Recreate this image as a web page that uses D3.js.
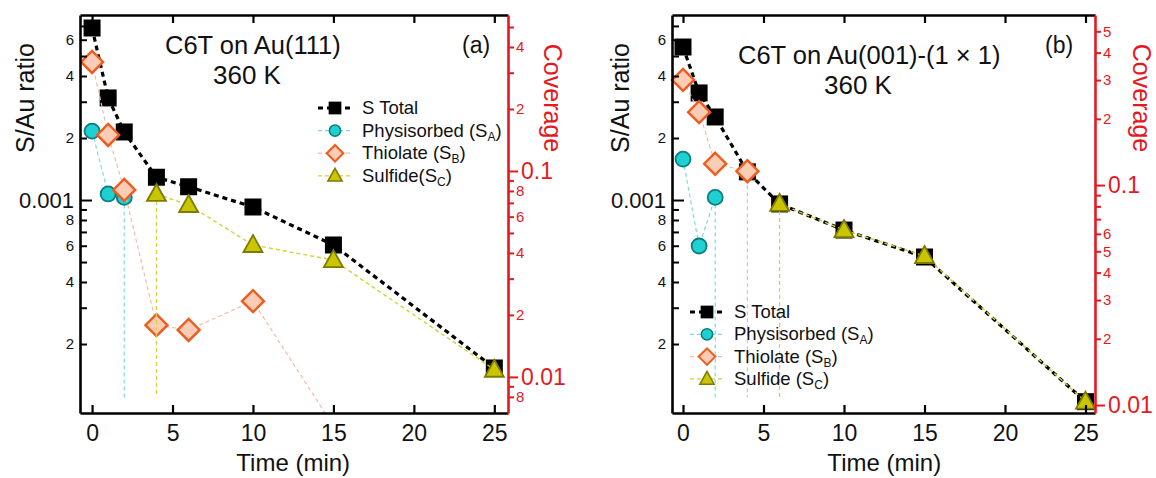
<!DOCTYPE html>
<html><head><meta charset="utf-8">
<script src="https://cdn.jsdelivr.net/npm/d3@7"></script>
<style>body{margin:0;background:#fff}svg{display:block}text{font-family:Arial,"Liberation Sans",sans-serif}</style>
</head><body><svg id="c" width="1156" height="478"></svg>
<script>
// ---------- data ----------
const timeTicks = [0, 5, 10, 15, 20, 25];

// Panel (a): C6T on Au(111), 360 K  (S/Au ratio)
const totalTimeA = [0, 1, 2, 4, 6, 10, 15, 25];
const totalA     = [6.84e-3, 3.13e-3, 2.14e-3, 1.29e-3, 1.16e-3, 0.925e-3, 0.605e-3, 0.153e-3];
const physTimeA  = [0, 1, 2];
const physA      = [2.16e-3, 1.07e-3, 1.03e-3];
const thiolTimeA = [0, 1, 2, 4, 6, 10, 15];
const thiolA     = [4.68e-3, 2.07e-3, 1.12e-3, 0.247e-3, 0.234e-3, 0.323e-3, 0.08e-3];
const sulfTimeA  = [4, 6, 10, 15, 25];
const sulfA      = [1.07e-3, 0.946e-3, 0.605e-3, 0.511e-3, 0.150e-3];
const physDropA  = [2];
const thiolDropA = [];
const sulfDropA  = [4];

// Panel (b): C6T on Au(001)-(1x1), 360 K
const totalTimeB = [0, 1, 2, 4, 6, 10, 15, 25];
const totalB     = [5.53e-3, 3.31e-3, 2.53e-3, 1.37e-3, 0.957e-3, 0.715e-3, 0.529e-3, 0.105e-3];
const physTimeB  = [0, 1, 2];
const physB      = [1.58e-3, 0.598e-3, 1.03e-3];
const thiolTimeB = [0, 1, 2, 4];
const thiolB     = [3.83e-3, 2.67e-3, 1.50e-3, 1.38e-3];
const sulfTimeB  = [6, 10, 15, 25];
const sulfB      = [0.957e-3, 0.715e-3, 0.535e-3, 0.105e-3];
const physDropB  = [2];
const thiolDropB = [4];
const sulfDropB  = [6];
const dropFloor  = 1.1e-4;

// axis domains and ticks
const xDomainA = [-0.75, 25.85];
const xDomainB = [-0.683, 25.59];
const ratioDomain = [9.25e-5, 7.91e-3];
const covDomainA = [6.68e-3, 0.572];
const covDomainB = [9.20e-3, 0.593];
const ratioTickVals = [2e-4,3e-4,4e-4,5e-4,6e-4,7e-4,8e-4,9e-4,1e-3,2e-3,3e-3,4e-3,5e-3,6e-3,7e-3];
const ratioTickText = ["2","","4","","6","","8","","0.001","2","","4","","6",""];
const covTickValsA = [0.008,0.009,0.01,0.02,0.03,0.04,0.05,0.06,0.07,0.08,0.09,0.1,0.2,0.3,0.4,0.5];
const covTickTextA = ["8","","0.01","2","","4","","6","","8","","0.1","2","","4",""];
const covTickValsB = [0.01,0.02,0.03,0.04,0.05,0.06,0.07,0.08,0.09,0.1,0.2,0.3,0.4,0.5];
const covTickTextB = ["0.01","2","3","4","5","6","","","","0.1","2","3","4","5"];
const legendNames = [["S Total",""],["Physisorbed (S","A"],["Thiolate (S","B"]];
const sulfNameA = ["Sulfide(S","C"];
const sulfNameB = ["Sulfide (S","C"];

// ---------- styles ----------
const RED = "#e4191f";
const ST = {
  total: {line:"#000", dash:"5,4", w:3.2, marker:"square", fill:"#000", stroke:"#000"},
  phys:  {line:"#7fd9e2", dash:"4,3", w:1.2, marker:"circle", fill:"#1fd0d2", stroke:"#0c7c7c"},
  thiol: {line:"#f4bba8", dash:"4,3", w:1.2, marker:"diamond", fill:"#fccdb4", stroke:"#ef5b1f"},
  sulf:  {line:"#d2d23a", dash:"4,3", w:1.4, marker:"triangle", fill:"#c9c600", stroke:"#7e7a00"}
};
function markerPath(type, s) {
  if (type === "square") return `M${-8.5*s},${-8.5*s}h${17*s}v${17*s}h${-17*s}Z`;
  if (type === "circle") { const r = 7.5*s; return `M${r},0A${r},${r} 0 1,1 ${-r},0A${r},${r} 0 1,1 ${r},0Z`; }
  if (type === "diamond") { const r = 11*s; return `M0,${-r}L${r},0L0,${r}L${-r},0Z`; }
  return `M0,${-10*s}L${9.5*s},${7*s}L${-9.5*s},${7*s}Z`;
}
function markerStroke(type){ return type==="square"?0:(type==="diamond"?2.4:1.8); }

const svg = d3.select("#c");

function panel(cfg) {
  const g = svg.append("g");
  const x = d3.scaleLinear().domain(cfg.xDomain).range([cfg.left, cfg.right]);
  const y = d3.scaleLog().domain(ratioDomain).range([cfg.bottom, cfg.top]);
  const yc = d3.scaleLog().domain(cfg.covDomain).range([cfg.bottom, cfg.top]);
  const clipId = "clip" + cfg.id;
  svg.append("clipPath").attr("id", clipId).append("rect")
    .attr("x", cfg.left).attr("y", cfg.top).attr("width", cfg.right - cfg.left).attr("height", cfg.bottom - cfg.top);

  const line = d3.line().x(d => x(d[0])).y(d => y(d[1]));
  const [lo, hi] = ratioDomain;
  cfg.series.forEach(s => {
    const st = ST[s.key];
    const pts = s.t.map((t, i) => [t, s.v[i]]);
    const lg = g.append("g").attr("clip-path", `url(#${clipId})`);
    lg.append("path").attr("d", line(pts)).attr("fill", "none")
      .attr("stroke", st.line).attr("stroke-width", st.w).attr("stroke-dasharray", st.dash);
    s.drop.forEach(dt => {
      const v = s.v[s.t.indexOf(dt)];
      lg.append("line").attr("x1", x(dt)).attr("x2", x(dt)).attr("y1", y(v)).attr("y2", y(dropFloor))
        .attr("stroke", st.line).attr("stroke-width", 1.2).attr("stroke-dasharray", "4,3");
    });
    g.append("g").selectAll("path").data(pts.filter(p => p[1] >= lo && p[1] <= hi)).join("path")
      .attr("transform", p => `translate(${x(p[0])},${y(p[1])})`)
      .attr("d", markerPath(st.marker, 1)).attr("fill", st.fill)
      .attr("stroke", st.stroke).attr("stroke-width", markerStroke(st.marker));
  });

  // axes
  const fam = 'Arial,"Liberation Sans",sans-serif';
  const bx = g.append("g").attr("transform", `translate(0,${cfg.bottom})`)
    .call(d3.axisBottom(x).tickValues(timeTicks).tickSize(-8).tickSizeOuter(0).tickPadding(12));
  bx.selectAll("text").attr("font-size", 23).attr("font-family", fam).attr("fill", "#111");
  const tx = g.append("g").attr("transform", `translate(0,${cfg.top})`)
    .call(d3.axisTop(x).tickValues(timeTicks).tickSize(-8).tickSizeOuter(0).tickFormat(""));
  const ly = g.append("g").attr("transform", `translate(${cfg.left},0)`)
    .call(d3.axisLeft(y).tickValues(ratioTickVals).tickFormat((d, i) => ratioTickText[i]).tickSize(-6).tickSizeOuter(0).tickPadding(6));
  ly.selectAll(".tick").each(function(d, i) {
    const major = ratioTickText[i] === "0.001";
    d3.select(this).select("line").attr("x2", major ? 12 : 7);
    d3.select(this).select("text").attr("font-size", major ? 22 : 15).attr("fill", "#111").attr("font-family", fam);
  });
  const ry = g.append("g").attr("transform", `translate(${cfg.right},0)`)
    .call(d3.axisRight(yc).tickValues(cfg.covTicks).tickFormat((d, i) => cfg.covText[i]).tickSize(6).tickSizeOuter(0).tickPadding(2));
  ry.selectAll(".tick").each(function(d, i) {
    const major = cfg.covText[i].startsWith("0.");
    d3.select(this).select("line").attr("x2", major ? 10 : 6).attr("stroke", RED).attr("stroke-width", 2);
    d3.select(this).select("text").attr("x", major ? 13 : 8).attr("font-size", major ? 23 : 15).attr("fill", RED).attr("font-family", fam);
  });
  [bx, tx, ly].forEach(a => { a.select(".domain").attr("stroke", "#000").attr("stroke-width", 2.6);
    a.selectAll(".tick line").attr("stroke", "#000").attr("stroke-width", 2.2); });
  ry.select(".domain").attr("stroke", RED).attr("stroke-width", 2.6);
  ly.selectAll(".tick line").attr("stroke-width", 2);

  // axis titles
  g.append("text").attr("x", (x(0) + x(25)) / 2).attr("y", 471).attr("text-anchor", "middle")
    .attr("font-size", 24).attr("fill", "#111").text("Time (min)");
  g.append("text").attr("transform", `translate(${cfg.yTitleX},${cfg.yTitleY}) rotate(-90)`).attr("text-anchor", "middle")
    .attr("font-size", 25).attr("fill", "#111").text("S/Au ratio");
  g.append("text").attr("transform", `translate(${cfg.covTitleX},${cfg.yTitleY}) rotate(90)`).attr("text-anchor", "middle")
    .attr("font-size", 25).attr("fill", RED).text("Coverage");
  // panel titles
  g.append("text").attr("x", cfg.titleX).attr("y", cfg.titleY).attr("font-size", 25.5).attr("fill", "#111").text(cfg.title);
  g.append("text").attr("x", cfg.tempX).attr("y", cfg.titleY + 30).attr("font-size", 26).attr("fill", "#111").text("360 K");
  g.append("text").attr("x", cfg.tagX).attr("y", 53).attr("font-size", 23).attr("fill", "#111").text(cfg.tag);

  // legend
  const keys = ["total", "phys", "thiol", "sulf"];
  const names = legendNames.concat([cfg.sulfName]);
  keys.forEach((k, i) => {
    const st = ST[k];
    const yy = cfg.legY + i * cfg.legDy;
    const lg = g.append("g");
    lg.append("line").attr("x1", cfg.legX - 17).attr("x2", cfg.legX + 17).attr("y1", yy).attr("y2", yy)
      .attr("stroke", st.line).attr("stroke-width", k === "total" ? 3.2 : 1.2).attr("stroke-dasharray", k === "total" ? "5,4" : "4,3");
    lg.append("path").attr("transform", `translate(${cfg.legX},${yy})`).attr("d", markerPath(st.marker, 0.75))
      .attr("fill", st.fill).attr("stroke", st.stroke).attr("stroke-width", markerStroke(st.marker) * 0.85);
    const t = lg.append("text").attr("x", cfg.legX + 27).attr("y", yy + 6).attr("font-size", 18.5).attr("fill", "#111");
    t.append("tspan").text(names[i][0]);
    if (names[i][1]) {
      t.append("tspan").attr("dy", 4).attr("font-size", 12).text(names[i][1]);
      t.append("tspan").attr("dy", -4).text(")");
    }
  });
}

panel({
  id: "a", left: 80, right: 508, top: 15, bottom: 413,
  xDomain: xDomainA, covDomain: covDomainA, covTicks: covTickValsA, covText: covTickTextA,
  series: [
    {key: "total", t: totalTimeA, v: totalA, drop: []},
    {key: "phys", t: physTimeA, v: physA, drop: physDropA},
    {key: "thiol", t: thiolTimeA, v: thiolA, drop: thiolDropA},
    {key: "sulf", t: sulfTimeA, v: sulfA, drop: sulfDropA}
  ],
  yTitleX: 34, yTitleY: 98, covTitleX: 544,
  title: "C6T on Au(111)", titleX: 165, titleY: 54, tempX: 213, tag: "(a)", tagX: 462,
  legX: 335, legY: 108, legDy: 22.6, sulfName: sulfNameA
});
panel({
  id: "b", left: 672, right: 1095, top: 15, bottom: 413,
  xDomain: xDomainB, covDomain: covDomainB, covTicks: covTickValsB, covText: covTickTextB,
  series: [
    {key: "total", t: totalTimeB, v: totalB, drop: []},
    {key: "phys", t: physTimeB, v: physB, drop: physDropB},
    {key: "thiol", t: thiolTimeB, v: thiolB, drop: thiolDropB},
    {key: "sulf", t: sulfTimeB, v: sulfB, drop: sulfDropB}
  ],
  yTitleX: 629, yTitleY: 98, covTitleX: 1133,
  title: "C6T on Au(001)-(1 × 1)", titleX: 738, titleY: 64, tempX: 824, tag: "(b)", tagX: 1045,
  legX: 707, legY: 312, legDy: 22.3, sulfName: sulfNameB
});
</script></body></html>
